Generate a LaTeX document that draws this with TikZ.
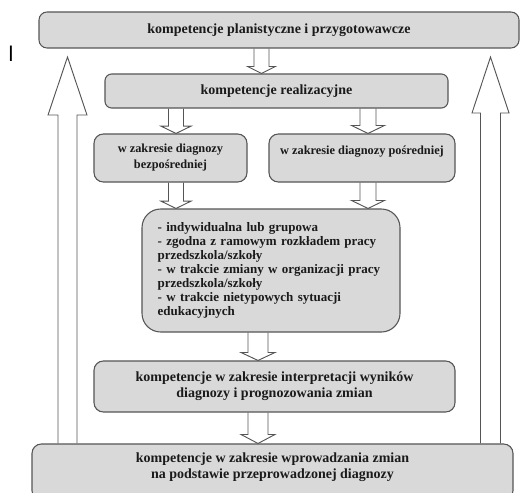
\documentclass[tikz,border=0pt]{standalone}
\usepackage{fontspec}
\setmainfont{Liberation Serif}
\newfontfamily\sansl{Liberation Sans}
\usetikzlibrary{calc}
\pgfdeclarelayer{arrowlayer}
\pgfsetlayers{arrowlayer,main}
\definecolor{boxfill}{HTML}{D9D9D9}
\definecolor{boxline}{HTML}{555555}
\definecolor{txt}{HTML}{1A1A1A}
\newcommand\vblock[7]{% #1 x(px) #2 from #3 to #4 halfshaft #5 halfhead #6 headlen(pt) #7 name
  \path (#1,0) coordinate (#7x);
  \coordinate (#7s) at (#2 -| #7x);
  \coordinate (#7t) at (#3 -| #7x);
  \coordinate (#7h) at ($(#7t)!#6!(#7s)$);
  \draw[blockarrow] ($(#7s)+(-#4,0)$) -- ($(#7h)+(-#4,0)$) -- ($(#7h)+(-#5,0)$) -- (#7t)
    -- ($(#7h)+(#5,0)$) -- ($(#7h)+(#4,0)$) -- ($(#7s)+(#4,0)$);
}
\begin{document}
\begin{tikzpicture}[x=0.75pt,y=-0.75pt,
  box/.style={draw=boxline, fill=boxfill, line width=0.8pt, text=txt,
    font=\bfseries\fontsize{10.5}{12}\selectfont, align=center, inner sep=0pt},
  subbox/.style={box, rounded corners=7pt, minimum height=36pt,
    font=\bfseries\fontsize{9.25}{12}\selectfont},
  blockarrow/.style={draw=boxline, fill=white, line width=0.7pt, line join=miter},
  btext/.style={text=txt, font=\bfseries\fontsize{10.5}{12}\selectfont, align=center, inner sep=0pt}]
\useasboundingbox (0,0) rectangle (520,492);

% boxes
\node[box, rounded corners=6pt, minimum width=360pt, minimum height=27pt] (top) at (279,30)
  {kompetencje planistyczne i przygotowawcze};
\node[box, rounded corners=5pt, minimum width=257.25pt, minimum height=25.5pt] (real) at (276.5,91)
  {kompetencje realizacyjne};
\node[subbox, minimum width=114.75pt] (subl) at (170.5,158)
  {w zakresie diagnozy\\bezpośredniej};
\node[subbox, minimum width=139.5pt] (subr) at (362,158)
  {w zakresie diagnozy pośredniej\\\mbox{}};
\node[box, rounded corners=14pt, minimum width=193.5pt, minimum height=92.25pt,
  text width=170pt, inner xsep=11.75pt, align=left, font=\bfseries\fontsize{9.75}{10.5}\selectfont] (big) at (271,270.5)
  {- indywidualna lub grupowa\\
   - zgodna z ramowym rozkładem pracy\\
   przedszkola/szkoły\\
   - w trakcie zmiany w organizacji pracy\\
   przedszkola/szkoły\\
   - w trakcie nietypowych sytuacji\\
   edukacyjnych};
\node[box, rounded corners=7pt, minimum width=270.75pt, minimum height=38.25pt] (interp) at (274.5,386.5)
  {kompetencje w zakresie interpretacji wyników\\diagnozy i prognozowania zmian};
\node[box, rounded corners=7pt, minimum width=360.75pt, minimum height=42pt] (bottom) at (272.5,472) {};
\node[btext] (bottomtxt) at (272.5,467)
  {kompetencje w zakresie wprowadzania zmian\\na podstawie przeprowadzonej diagnozy};

\node[font=\sansl\fontsize{16}{16}\selectfont, text=black, inner sep=0pt, anchor=north] (mark) at (11,46) {l};

\begin{pgfonlayer}{arrowlayer}
% block arrows between boxes
\vblock{261.5}{top.south}{real.north}{7.5}{14}{5.25pt}{a}
\vblock{176}{real.south}{subl.north}{7.5}{15}{5.5pt}{b}
\vblock{368}{real.south}{subr.north}{8}{16.5}{6pt}{c}
\vblock{176}{subl.south}{big.north}{7.5}{15}{5.5pt}{d}
\vblock{368}{subr.south}{big.north}{8}{16.5}{6pt}{e}
\vblock{258}{big.south}{interp.north}{10}{17}{6pt}{f}
\vblock{258}{interp.south}{bottom.north}{10}{17}{6.75pt}{g}
% large up arrows
\coordinate (lt) at (67.5,57);
\coordinate (rt) at (490.5,57);
\vblock{67.5}{bottom.north}{lt}{9.5}{19.5}{43.5pt}{l}
\vblock{490.5}{bottom.north}{rt}{10}{18.5}{42pt}{r}
\end{pgfonlayer}
\end{tikzpicture}
\end{document}
